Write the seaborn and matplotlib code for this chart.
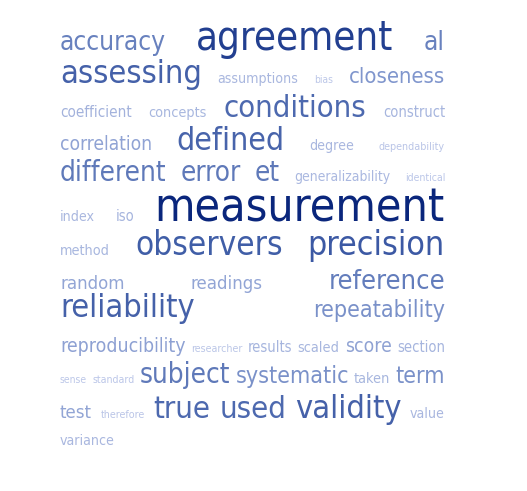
import numpy as np
import matplotlib
matplotlib.use('Agg')
import matplotlib.pyplot as plt
from matplotlib import font_manager
import seaborn as sns

# words of the cloud, their weight (font size in pt) and the line they sit on
words = ['accuracy', 'agreement', 'al',
         'assessing', 'assumptions', 'bias', 'closeness',
         'coefficient', 'concepts', 'conditions', 'construct',
         'correlation', 'defined', 'degree', 'dependability',
         'different', 'error', 'et', 'generalizability', 'identical',
         'index', 'iso', 'measurement',
         'method', 'observers', 'precision',
         'random', 'readings', 'reference',
         'reliability', 'repeatability',
         'reproducibility', 'researcher', 'results', 'scaled', 'score', 'section',
         'sense', 'standard', 'subject', 'systematic', 'taken', 'term',
         'test', 'therefore', 'true', 'used', 'validity', 'value',
         'variance']
weights = [17, 26, 17,
           21, 9.2, 6.7, 14.3,
           9.9, 9.3, 20, 9.5,
           12.4, 20.7, 9.2, 7,
           18, 18, 18, 9, 6.8,
           9.2, 9.6, 30,
           9.3, 21.5, 22,
           12, 12, 17.6,
           21, 15,
           12.6, 6.9, 9.6, 9.4, 12.5, 9.6,
           6.7, 6.8, 18, 15, 9.4, 15,
           12, 7, 20, 20, 21, 9.2,
           9.2]
line_of = [0, 0, 0,
           1, 1, 1, 1,
           2, 2, 2, 2,
           3, 3, 3, 3,
           4, 4, 4, 4, 4,
           5, 5, 5,
           6, 6, 6,
           7, 7, 7,
           8, 8,
           9, 9, 9, 9, 9, 9,
           10, 10, 10, 10, 10, 10,
           11, 11, 11, 11, 11, 11,
           12]

# layout (pixels)
baselines = [50, 83, 117, 150, 181, 221, 255, 289, 317, 352, 383, 418, 445]
LEFT, RIGHT = 60, 445

sns.set_theme(style='white')
plt.rcParams['font.family'] = ['DejaVu Sans']

# use the condensed face when it is installed (closer to the Tahoma look)
path = font_manager.findfont(font_manager.FontProperties(family='DejaVu Sans', stretch='condensed'))
condensed = 'Condensed' in path
stretch = 'condensed' if condensed else 'normal'
scale = 1.11 if condensed else 1.0

cmap = sns.blend_palette(['#bcc7e8', '#7f95cc', '#3a58a3', '#0a267c'], as_cmap=True)
wmin, wmax = min(weights), max(weights)

fig = plt.figure(figsize=(5.27, 4.91), dpi=100, facecolor='white')
ax = fig.add_axes([0, 0, 1, 1])
ax.set_xlim(0, 527)
ax.set_ylim(491, 0)
ax.axis('off')

renderer = fig.canvas.get_renderer()
n_lines = max(line_of) + 1
for li in range(n_lines):
    idx = [i for i, l in enumerate(line_of) if l == li]
    texts = []
    for i in idx:
        frac = (weights[i] - wmin) / (wmax - wmin)
        t = ax.text(0, baselines[li], words[i], fontsize=weights[i] * scale,
                    fontstretch=stretch, color=cmap(frac),
                    ha='left', va='baseline')
        texts.append(t)
    widths = [t.get_window_extent(renderer).width for t in texts]
    if li == n_lines - 1 or len(texts) == 1:
        gap = 6
    else:
        gap = (RIGHT - LEFT - sum(widths)) / (len(texts) - 1)
    x = LEFT
    for t, w in zip(texts, widths):
        t.set_x(x)
        x += w + gap

fig.savefig('out.png', dpi=100, facecolor='white')
